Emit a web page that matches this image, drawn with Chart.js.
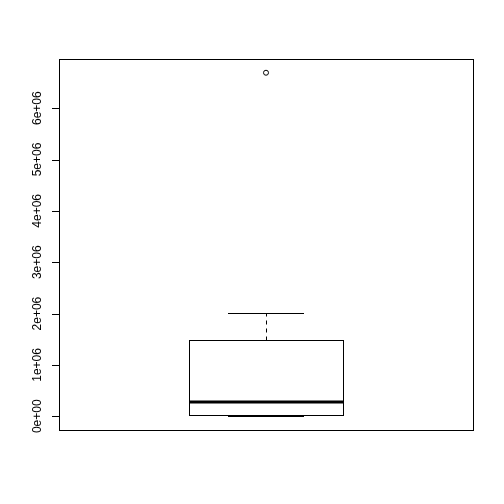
<!DOCTYPE html>
<html><head><meta charset="utf-8">
<script src="https://cdn.jsdelivr.net/npm/chart.js@4/dist/chart.umd.min.js"></script>
<style>html,body{margin:0;padding:0;background:#fff}canvas{display:block}</style>
</head><body>
<canvas id="c" width="504" height="504"></canvas>
<script>
// Box statistics (values)
const categories = ['1'];
const lowerWhisker = [0];
const q1Values = [0.018e6];
const medianValues = [0.279e6];
const q3Values = [1.48e6];
const upperWhisker = [2.007e6];
const outliers = [[6.69e6]];
const yTickValues = [0, 1e6, 2e6, 3e6, 4e6, 5e6, 6e6];
const yTickLabels = ['0e+00', '1e+06', '2e+06', '3e+06', '4e+06', '5e+06', '6e+06'];

const dataMin = 0, dataMax = 6.69e6;
const ext = (dataMax - dataMin) * 0.04;

const r = v => Math.round(v) + 0.5;

const boxPlugin = {
  id: 'boxplot',
  afterDatasetsDraw(chart) {
    const ctx = chart.ctx;
    const xs = chart.scales.x, ys = chart.scales.y;
    const ca = chart.chartArea;
    ctx.save();
    ctx.strokeStyle = '#000';
    ctx.fillStyle = '#000';
    categories.forEach((c, i) => {
      const pos = i + 1;
      const xc = xs.getPixelForValue(pos);
      const xl = xs.getPixelForValue(pos - 0.2), xr = xs.getPixelForValue(pos + 0.2);
      const cl = xs.getPixelForValue(pos - 0.1), cr = xs.getPixelForValue(pos + 0.1);
      const yq1 = ys.getPixelForValue(q1Values[i]);
      const yq3 = ys.getPixelForValue(q3Values[i]);
      const ymed = ys.getPixelForValue(medianValues[i]);
      const ylo = ys.getPixelForValue(lowerWhisker[i]);
      const yhi = ys.getPixelForValue(upperWhisker[i]);
      // whiskers dashed
      ctx.lineWidth = 1;
      ctx.setLineDash([4, 4]);
      ctx.beginPath();
      ctx.moveTo(r(xc), r(yq3)); ctx.lineTo(r(xc), r(yhi));
      ctx.moveTo(r(xc), r(yq1)); ctx.lineTo(r(xc), r(ylo));
      ctx.stroke();
      ctx.setLineDash([]);
      // caps
      ctx.beginPath();
      ctx.moveTo(Math.round(cl), r(yhi)); ctx.lineTo(Math.round(cr), r(yhi));
      ctx.moveTo(Math.round(cl), r(ylo)); ctx.lineTo(Math.round(cr), r(ylo));
      ctx.stroke();
      // box
      ctx.fillStyle = '#fff';
      ctx.fillRect(r(xl), r(yq3), Math.round(xr) - Math.round(xl), Math.round(yq1) - Math.round(yq3));
      ctx.strokeRect(r(xl), r(yq3), Math.round(xr) - Math.round(xl), Math.round(yq1) - Math.round(yq3));
      // median
      ctx.lineWidth = 3;
      ctx.beginPath();
      ctx.moveTo(Math.round(xl), Math.round(ymed)); ctx.lineTo(Math.round(xr) + 1, Math.round(ymed));
      ctx.stroke();
      // outliers
      ctx.lineWidth = 1;
      outliers[i].forEach(v => {
        const yo = ys.getPixelForValue(v);
        ctx.beginPath();
        ctx.arc(xc, yo, 2.5, 0, Math.PI * 2);
        ctx.stroke();
      });
    });
    // frame
    ctx.lineWidth = 1;
    ctx.strokeRect(r(ca.left), r(ca.top), Math.round(ca.right) - Math.round(ca.left), Math.round(ca.bottom) - Math.round(ca.top));
    // y axis ticks and rotated labels
    ctx.fillStyle = '#000';
    ctx.font = '12px "Liberation Sans", Arial, sans-serif';
    ctx.textAlign = 'center';
    ctx.textBaseline = 'middle';
    yTickValues.forEach((v, k) => {
      const y = ys.getPixelForValue(v);
      ctx.beginPath();
      ctx.moveTo(Math.round(ca.left) - 7, r(y));
      ctx.lineTo(Math.round(ca.left), r(y));
      ctx.stroke();
      ctx.save();
      ctx.translate(38, y);
      ctx.rotate(-Math.PI / 2);
      ctx.fillText(yTickLabels[k], 0, 0);
      ctx.restore();
    });
    ctx.restore();
  }
};

const bgPlugin = {
  id: 'bg',
  beforeDraw(chart) {
    const ctx = chart.ctx;
    ctx.save(); ctx.fillStyle = '#fff'; ctx.fillRect(0, 0, chart.width, chart.height); ctx.restore();
  }
};

new Chart(document.getElementById('c'), {
  type: 'scatter',
  data: { datasets: [{ data: [], showLine: false }] },
  options: {
    responsive: false,
    devicePixelRatio: 1,
    animation: false,
    layout: { padding: { left: 59, top: 59, right: 31, bottom: 74 } },
    plugins: { legend: { display: false }, tooltip: { enabled: false } },
    scales: {
      x: { type: 'linear', display: false, min: 0.46, max: 1.54 },
      y: { type: 'linear', display: false, min: dataMin - ext, max: dataMax + ext }
    }
  },
  plugins: [bgPlugin, boxPlugin]
});
</script>
</body></html>
